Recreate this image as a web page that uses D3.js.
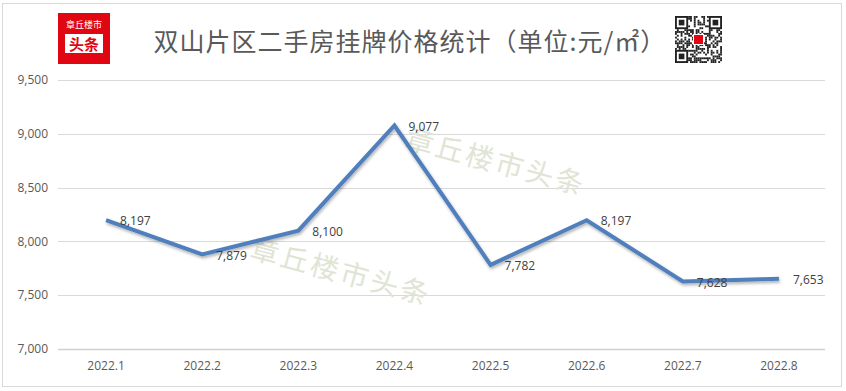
<!DOCTYPE html>
<html><head><meta charset="utf-8">
<script src="https://cdn.jsdelivr.net/npm/d3@7/dist/d3.min.js"></script>
<style>body{margin:0;background:#fff}svg{display:block}</style>
</head><body>
<svg id="c" width="846" height="391"></svg>
<script>
const categories = ["2022.1","2022.2","2022.3","2022.4","2022.5","2022.6","2022.7","2022.8"];
const values = [8197,7879,8100,9077,7782,8197,7628,7653];
const yTicks = [7000,7500,8000,8500,9000,9500];
const title = "双山片区二手房挂牌价格统计（单位:元/㎡）";
const watermark = "章丘楼市头条";

const svg = d3.select("#c");
svg.append("rect").attr("x",2.5).attr("y",3.5).attr("width",839).attr("height",383)
  .attr("fill","#fff").attr("stroke","#d9d9d9");

const x = d3.scaleBand().domain(categories).range([58,827]);
const y = d3.scaleLinear().domain([7000,9500]).range([349,80]);

svg.append("g").selectAll("line").data(yTicks).join("line")
  .attr("x1",58).attr("x2",825).attr("y1",d=>Math.round(y(d))+0.5).attr("y2",d=>Math.round(y(d))+0.5)
  .attr("stroke",d=>d===7000?"#d0d0d0":"#d9d9d9").attr("stroke-width",d=>d===7000?1.5:1);

svg.append("g").selectAll("text").data(yTicks).join("text")
  .attr("x",48).attr("y",d=>y(d)).attr("dy","0.35em").attr("text-anchor","end")
  .attr("font-family","'Open Sans',sans-serif").attr("font-size",12).attr("fill","#595959")
  .text(d=>d3.format(",")(d));

svg.append("g").selectAll("text").data(categories).join("text")
  .attr("x",d=>x(d)+x.bandwidth()/2).attr("y",366).attr("dy","0.35em").attr("text-anchor","middle")
  .attr("font-family","'Open Sans',sans-serif").attr("font-size",12).attr("fill","#595959")
  .text(d=>d);

[[496,162],[341,272]].forEach(p=>{
  svg.append("text").attr("transform",`translate(${p[0]},${p[1]}) rotate(15)`)
   .attr("text-anchor","middle").attr("dy","0.35em")
   .attr("font-family","'Noto Sans CJK SC',sans-serif").attr("font-size",28)
   .attr("fill","#e0e4d4").attr("letter-spacing",3).text(watermark);
});

const defs=svg.append("defs");
const f=defs.append("filter").attr("id","sh").attr("x","-10%").attr("y","-10%").attr("width","120%").attr("height","130%");
f.append("feDropShadow").attr("dx",1).attr("dy",2).attr("stdDeviation",1.5).attr("flood-color","#000").attr("flood-opacity",0.3);

const line=d3.line().x((d,i)=>x(categories[i])+x.bandwidth()/2).y(d=>y(d));
svg.append("path").datum(values).attr("d",line).attr("fill","none")
  .attr("stroke","#4f7fbc").attr("stroke-width",4).attr("stroke-linejoin","miter")
  .attr("filter","url(#sh)");

svg.append("g").selectAll("text").data(values).join("text")
  .attr("x",(d,i)=>x(categories[i])+x.bandwidth()/2+14).attr("y",d=>y(d)+1).attr("dy","0.35em")
  .attr("font-family","'Open Sans',sans-serif").attr("font-size",12).attr("fill","#404040")
  .text(d=>d3.format(",")(d));

svg.append("text").attr("x",410).attr("y",42).attr("dy","0.35em").attr("text-anchor","middle")
  .attr("font-family","'Noto Sans CJK SC',sans-serif").attr("font-size",25).attr("fill","#595959")
  .attr("letter-spacing",1).text(title);

const lg=svg.append("g").attr("transform","translate(58,13)");
lg.append("rect").attr("width",52).attr("height",51).attr("fill","#e00612");
lg.append("text").attr("x",26).attr("y",15).attr("text-anchor","middle")
  .attr("font-family","'Noto Sans CJK SC',sans-serif").attr("font-size",9).attr("fill","#fff").text("章丘楼市");
lg.append("rect").attr("x",7).attr("y",21).attr("width",38).attr("height",19).attr("fill","#fff");
lg.append("text").attr("x",26).attr("y",37).attr("text-anchor","middle")
  .attr("font-family","'Noto Sans CJK SC',sans-serif").attr("font-weight","bold").attr("font-size",15).attr("fill","#e00612").text("头条");

const qr=svg.append("g").attr("transform","translate(675,16)");
const n=25,m=47/n;
let seed=12345;
for(let r=0;r<n;r++)for(let c=0;c<n;c++){
  seed=(seed*1103515245+12345)&0x7fffffff;
  const inF=(r<7&&c<7)||(r<7&&c>=n-7)||(r>=n-7&&c<7);
  if(inF) continue;
  if(((seed>>16)&1)===1) qr.append("rect").attr("x",c*m).attr("y",r*m).attr("width",m).attr("height",m).attr("fill","#222");
}
[[0,0],[0,n-7],[n-7,0]].forEach(([r,c])=>{
  qr.append("rect").attr("x",c*m+m/2).attr("y",r*m+m/2).attr("width",6*m).attr("height",6*m).attr("fill","none").attr("stroke","#222").attr("stroke-width",m);
  qr.append("rect").attr("x",(c+2)*m).attr("y",(r+2)*m).attr("width",3*m).attr("height",3*m).attr("fill","#222");
});
qr.append("rect").attr("x",18).attr("y",18).attr("width",11).attr("height",11).attr("fill","#fff");
qr.append("rect").attr("x",19).attr("y",19).attr("width",9).attr("height",9).attr("fill","#e00612");
</script>
</body></html>
